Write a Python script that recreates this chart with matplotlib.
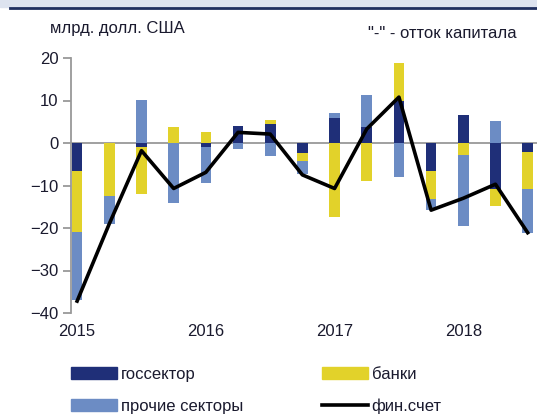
import matplotlib.pyplot as plt
import matplotlib.patches as mpatches
from matplotlib.lines import Line2D
import numpy as np

plt.rcParams["font.family"] = ["Liberation Sans", "DejaVu Sans"]

# квартальные данные, 2015 Q1 - 2018 Q3, млрд. долл. США
quarters = ["2015Q1", "2015Q2", "2015Q3", "2015Q4",
            "2016Q1", "2016Q2", "2016Q3", "2016Q4",
            "2017Q1", "2017Q2", "2017Q3", "2017Q4",
            "2018Q1", "2018Q2", "2018Q3"]
gov = [-6.5, 0.0, -0.9, 0.0, -1.0, 3.9, 4.5, -2.4, 5.8, 3.7, 10.0, -6.5, 6.7, -10.8, -2.0]
banks = [-14.4, -12.4, -11.0, 3.7, 2.5, 0.0, 0.8, -1.8, -17.5, -9.0, 8.9, -6.7, -2.8, -4.0, -8.8]
other = [-16.1, -6.7, 10.2, -14.2, -8.3, -1.3, -3.1, -3.1, 1.2, 7.6, -8.0, -2.6, -16.7, 5.1, -10.3]
fin_account = [-37.2, -19.0, -1.8, -10.7, -6.9, 2.5, 2.1, -7.5, -10.7, 3.3, 10.8, -15.8, -13.0, -9.7, -21.1]
year_labels = ["2015", "2016", "2017", "2018"]

c_gov = "#1F2F78"
c_banks = "#E2D22A"
c_other = "#6C8CC4"
txt_color = "#1a1a2e"

fig = plt.figure(figsize=(5.37, 4.16), dpi=100)
ax = fig.add_axes([71 / 537, 1 - 313 / 416, 1 - 71 / 537, (313 - 58) / 416])

x = np.arange(len(quarters))
width = 0.33

# стек: положительные и отрицательные части отдельно
pos_base = np.zeros(len(x))
neg_base = np.zeros(len(x))
for vals, col in [(gov, c_gov), (banks, c_banks), (other, c_other)]:
    vals = np.array(vals)
    pos = np.where(vals > 0, vals, 0)
    neg = np.where(vals < 0, vals, 0)
    ax.bar(x, pos, width, bottom=pos_base, color=col, zorder=2)
    ax.bar(x, neg, width, bottom=neg_base, color=col, zorder=2)
    pos_base += pos
    neg_base += neg

ax.axhline(0, color="#999999", lw=1.3, zorder=1)
ax.plot(x, fin_account, color="black", lw=2.6, zorder=3)

ax.set_ylim(-40, 20)
ax.set_xlim(-0.19, 14.29)
ax.set_yticks(range(-40, 21, 10))
ax.set_xticks(x[::4])
ax.set_xticklabels(year_labels)

for s in ["top", "right", "bottom"]:
    ax.spines[s].set_visible(False)
ax.spines["left"].set_color("#999999")
ax.spines["left"].set_linewidth(1.3)
ax.tick_params(axis="y", length=6, width=1.3, color="#999999",
               labelsize=12, labelcolor=txt_color, pad=3)
ax.tick_params(axis="x", length=0, labelsize=12, labelcolor=txt_color, pad=8)

# шапка
fig.patches.append(mpatches.Rectangle((0, 1 - 7 / 416), 1, 7 / 416,
                                      transform=fig.transFigure, color="#DDE3EF"))
fig.add_artist(Line2D([10 / 537, 1], [1 - 8 / 416, 1 - 8 / 416],
                      transform=fig.transFigure, color="#1F2F5F", lw=2))

fig.text(50 / 537, 1 - 29 / 416, "млрд. долл. США", fontsize=12,
         color=txt_color, va="center")
fig.text(368 / 537, 1 - 33 / 416, "\"-\" - отток капитала", fontsize=12,
         color=txt_color, va="center")

handles = [mpatches.Patch(color=c_gov, label="госсектор"),
           mpatches.Patch(color=c_other, label="прочие секторы"),
           mpatches.Patch(color=c_banks, label="банки"),
           Line2D([0], [0], color="black", lw=2.6, label="фин.счет")]
fig.legend(handles=handles, ncol=2, loc="upper left",
           bbox_to_anchor=(56 / 537, 1 - 352 / 416), frameon=False,
           fontsize=12, handlelength=2.75, handleheight=0.75,
           handletextpad=0.25, columnspacing=4.7, labelspacing=1.0,
           labelcolor=txt_color)

fig.savefig("out.png", dpi=100)
